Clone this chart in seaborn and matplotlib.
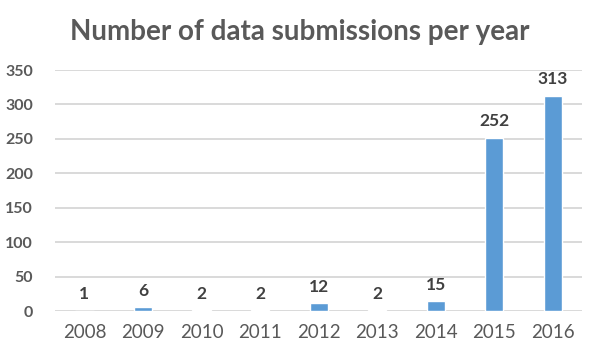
import matplotlib
matplotlib.use("Agg")
import matplotlib.pyplot as plt
import seaborn as sns
import pandas as pd

years = ["2008", "2009", "2010", "2011", "2012", "2013", "2014", "2015", "2016"]
submissions = [1, 6, 2, 2, 12, 2, 15, 252, 313]
y_ticks = [0, 50, 100, 150, 200, 250, 300, 350]

df = pd.DataFrame({"year": years, "count": submissions})

sns.set_theme(style="white")
plt.rcParams["font.family"] = ["Lato", "DejaVu Sans"]

fig = plt.figure(figsize=(6.0, 3.59), dpi=100)
ax = fig.add_axes([0.092, 0.133, 0.878, 0.672])

sns.barplot(data=df, x="year", y="count", color="#5B9BD5", width=0.31,
            saturation=1, ax=ax, zorder=3)

ax.set_ylim(0, 350)
ax.set_yticks(y_ticks)
ax.set_xlim(-0.5, len(years) - 0.5)
ax.yaxis.grid(True, color="#D9D9D9", linewidth=1.4, zorder=0)
ax.set_axisbelow(True)
for s in ax.spines.values():
    s.set_visible(False)
ax.set_xlabel("")
ax.set_ylabel("")
ax.tick_params(axis="both", length=0, colors="#595959")
ax.tick_params(axis="x", labelsize=13.5, pad=9)
ax.tick_params(axis="y", labelsize=11.5, pad=16)
for lbl in ax.get_yticklabels():
    lbl.set_fontweight("bold")
    lbl.set_horizontalalignment("right")

for i, v in enumerate(submissions):
    ax.annotate(str(v), (i, v), xytext=(0, 6), textcoords="offset points",
                ha="center", va="bottom", fontsize=12.5, fontweight="bold",
                color="#404040")

fig.text(0.50, 0.91, "Number of data submissions per year", ha="center",
         va="center", fontsize=20, fontweight="bold", color="#595959")

fig.savefig("out.png", dpi=100)
